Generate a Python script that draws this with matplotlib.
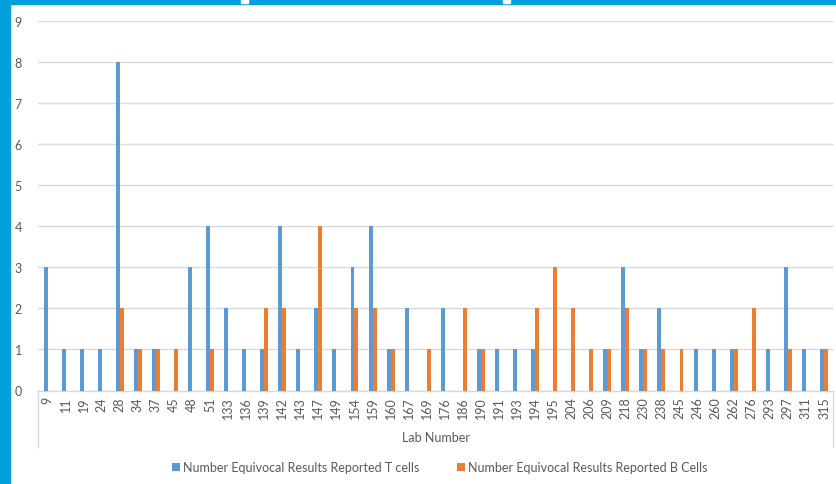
import matplotlib
matplotlib.use("Agg")
import matplotlib.pyplot as plt
from matplotlib.patches import Rectangle
from matplotlib.lines import Line2D
import numpy as np

labs = ["9", "11", "19", "24", "28", "34", "37", "45", "48", "51", "133", "136",
        "139", "142", "143", "147", "149", "154", "159", "160", "167", "169",
        "176", "186", "190", "191", "193", "194", "195", "204", "206", "209",
        "218", "230", "238", "245", "246", "260", "262", "276", "293", "297",
        "311", "315"]
t_cells = [3, 1, 1, 1, 8, 1, 1, 0, 3, 4, 2, 1,
           1, 4, 1, 2, 1, 3, 4, 1, 2, 0,
           2, 0, 1, 1, 1, 1, 0, 0, 0, 1,
           3, 1, 2, 0, 1, 1, 1, 0, 1, 3,
           1, 1]
b_cells = [0, 0, 0, 0, 2, 1, 1, 1, 0, 1, 0, 0,
           2, 2, 0, 4, 0, 2, 2, 1, 0, 1,
           0, 2, 1, 0, 0, 2, 3, 2, 1, 1,
           2, 1, 1, 1, 0, 0, 1, 2, 0, 1,
           0, 1]
y_ticks = list(range(0, 10))

W, H = 837, 485
plt.rcParams["font.family"] = ["Lato", "DejaVu Sans"]
fig = plt.figure(figsize=(W / 100, H / 100), dpi=100)
fig.patch.set_facecolor("white")

# axes placement in pixel terms
x0, x1 = 38.5, 833.0
y_top, y_bot = 21.5, 391.5
ax = fig.add_axes([x0 / W, (H - y_bot) / H, (x1 - x0) / W, (y_bot - y_top) / H])

blue = "#5B9BD5"
orange = "#ED7D31"
grid_c = "#D9D9D9"
text_c = "#595959"

x = np.arange(len(labs))
bw = 0.22
ax.bar(x - bw / 2, t_cells, width=bw, color=blue, zorder=3,
       label="Number Equivocal Results Reported T cells")
ax.bar(x + bw / 2, b_cells, width=bw, color=orange, zorder=3,
       label="Number Equivocal Results Reported B Cells")

ax.set_xlim(-0.5, len(labs) - 0.5)
ax.set_ylim(0, 9)
ax.set_yticks(y_ticks)
ax.set_yticklabels([str(v) for v in y_ticks], color=text_c, fontsize=9)
ax.set_xticks(x)
ax.set_xticklabels(labs, rotation=90, color=text_c, fontsize=9)
ax.tick_params(axis="both", length=0)
ax.tick_params(axis="y", pad=12)
ax.tick_params(axis="x", pad=4)
ax.yaxis.grid(True, color=grid_c, linewidth=1, zorder=0)
ax.set_axisbelow(True)
for s in ["top", "right", "left"]:
    ax.spines[s].set_visible(False)
ax.spines["bottom"].set_color("#D9D9D9")
ax.spines["bottom"].set_linewidth(1)

# category-axis box lines extending under the labels
for xp in (x0, x1):
    fig.add_artist(Line2D([xp / W, xp / W], [(H - y_bot) / H, (H - 448) / H],
                          color="#D9D9D9", linewidth=1))

fig.text(436 / W, 1 - 438 / H, "Lab Number", ha="center", va="center",
         color=text_c, fontsize=9)

handles, lbls = ax.get_legend_handles_labels()
fig.legend(handles, lbls, loc="center", bbox_to_anchor=(440 / W, 1 - 468 / H),
           ncol=2, frameon=False, fontsize=9, labelcolor=text_c,
           handlelength=0.6, handleheight=0.6, handletextpad=0.3,
           columnspacing=3.0)

# frame band along the top and left edges
band = "#069FDD"
fig.add_artist(Rectangle((0, 1 - 5 / H), 1, 5 / H, transform=fig.transFigure,
                         color=band, zorder=10))
fig.add_artist(Rectangle((0, 0), 9.5 / W, 1, transform=fig.transFigure,
                         color=band, zorder=10))
for hx in (241, 503):
    fig.add_artist(Rectangle((hx / W, 1 - 4 / H), 7 / W, 4 / H,
                             transform=fig.transFigure, color="white", zorder=11))

fig.savefig("out.png", dpi=100)
